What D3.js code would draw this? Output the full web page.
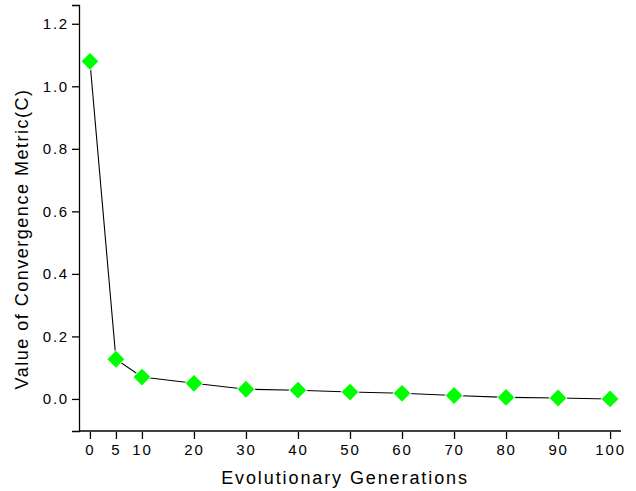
<!DOCTYPE html>
<html>
<head>
<meta charset="utf-8">
<script src="https://cdn.jsdelivr.net/npm/d3@7"></script>
<style>
  body { margin: 0; background: #fff; }
  svg text { font-family: "Liberation Sans", Arial, sans-serif; fill: #000; }
</style>
</head>
<body>
<div id="chart"></div>
<script>
var generations = [0, 5, 10, 20, 30, 40, 50, 60, 70, 80, 90, 100];
var convergence = [1.08, 0.127, 0.070, 0.050, 0.031, 0.028, 0.022, 0.018, 0.011, 0.005, 0.003, 0.000];
var xTickValues = [0, 5, 10, 20, 30, 40, 50, 60, 70, 80, 90, 100];
var yTickValues = [0.0, 0.2, 0.4, 0.6, 0.8, 1.0, 1.2];

var width = 636,
    height = 491;

var svg = d3.select("#chart")
    .append("svg")
    .attr("width", width)
    .attr("height", height);

var x = d3.scaleLinear()
    .domain([-2.1, 102.1])
    .range([79, 621]);

var y = d3.scaleLinear()
    .domain([-0.1025, 1.26])
    .range([431, 5]);

// y axis
var yAxis = svg.append("g")
    .attr("transform", "translate(79,0)")
    .call(d3.axisLeft(y)
        .tickValues(yTickValues)
        .tickSize(7)
        .tickPadding(3)
        .tickFormat(d3.format(".1f")));

yAxis.select(".domain").attr("stroke", "#000").attr("stroke-width", 1.3);
yAxis.selectAll(".tick line").attr("stroke-width", 1.3);
yAxis.selectAll(".tick text")
    .attr("font-size", "15px")
    .style("letter-spacing", "1.8px")
    .attr("font-family", null);

// x axis line
svg.append("line")
    .attr("x1", x.range()[0])
    .attr("x2", x.range()[1])
    .attr("y1", 431)
    .attr("y2", 431)
    .attr("stroke", "#000")
    .attr("stroke-width", 1.3);

var xAxis = svg.append("g")
    .attr("transform", "translate(0,432)")
    .call(d3.axisBottom(x)
        .tickValues(xTickValues)
        .tickSize(7)
        .tickPadding(5)
        .tickFormat(d3.format("d")));

xAxis.select(".domain").remove();
xAxis.selectAll(".tick line").attr("stroke-width", 1.3);
xAxis.selectAll(".tick text")
    .attr("font-size", "15px")
    .style("letter-spacing", "1.8px")
    .attr("font-family", null);

// axis titles
svg.append("text")
    .attr("x", 345)
    .attr("y", 484)
    .attr("text-anchor", "middle")
    .attr("font-size", "18px")
    .style("letter-spacing", "1.9px")
    .text("Evolutionary Generations");

svg.append("text")
    .attr("transform", "translate(28,239) rotate(-90)")
    .attr("text-anchor", "middle")
    .attr("font-size", "18px")
    .style("letter-spacing", "1.5px")
    .text("Value of Convergence Metric(C)");

// series
var points = generations.map(function (g, i) {
    return { g: g, c: convergence[i] };
});

var line = d3.line()
    .x(function (d) { return x(d.g); })
    .y(function (d) { return y(d.c); });

svg.append("path")
    .datum(points)
    .attr("fill", "none")
    .attr("stroke", "#000")
    .attr("stroke-width", 1.1)
    .attr("d", line);

var symbol = d3.symbol().type(d3.symbolDiamond2).size(180);

svg.selectAll(".marker")
    .data(points)
    .enter()
    .append("path")
    .attr("class", "marker")
    .attr("fill", "#00ff00")
    .attr("stroke", "#fff")
    .attr("stroke-width", 1.5)
    .attr("paint-order", "stroke")
    .attr("transform", function (d) {
        return "translate(" + x(d.g) + "," + y(d.c) + ")";
    })
    .attr("d", symbol);
</script>
</body>
</html>
